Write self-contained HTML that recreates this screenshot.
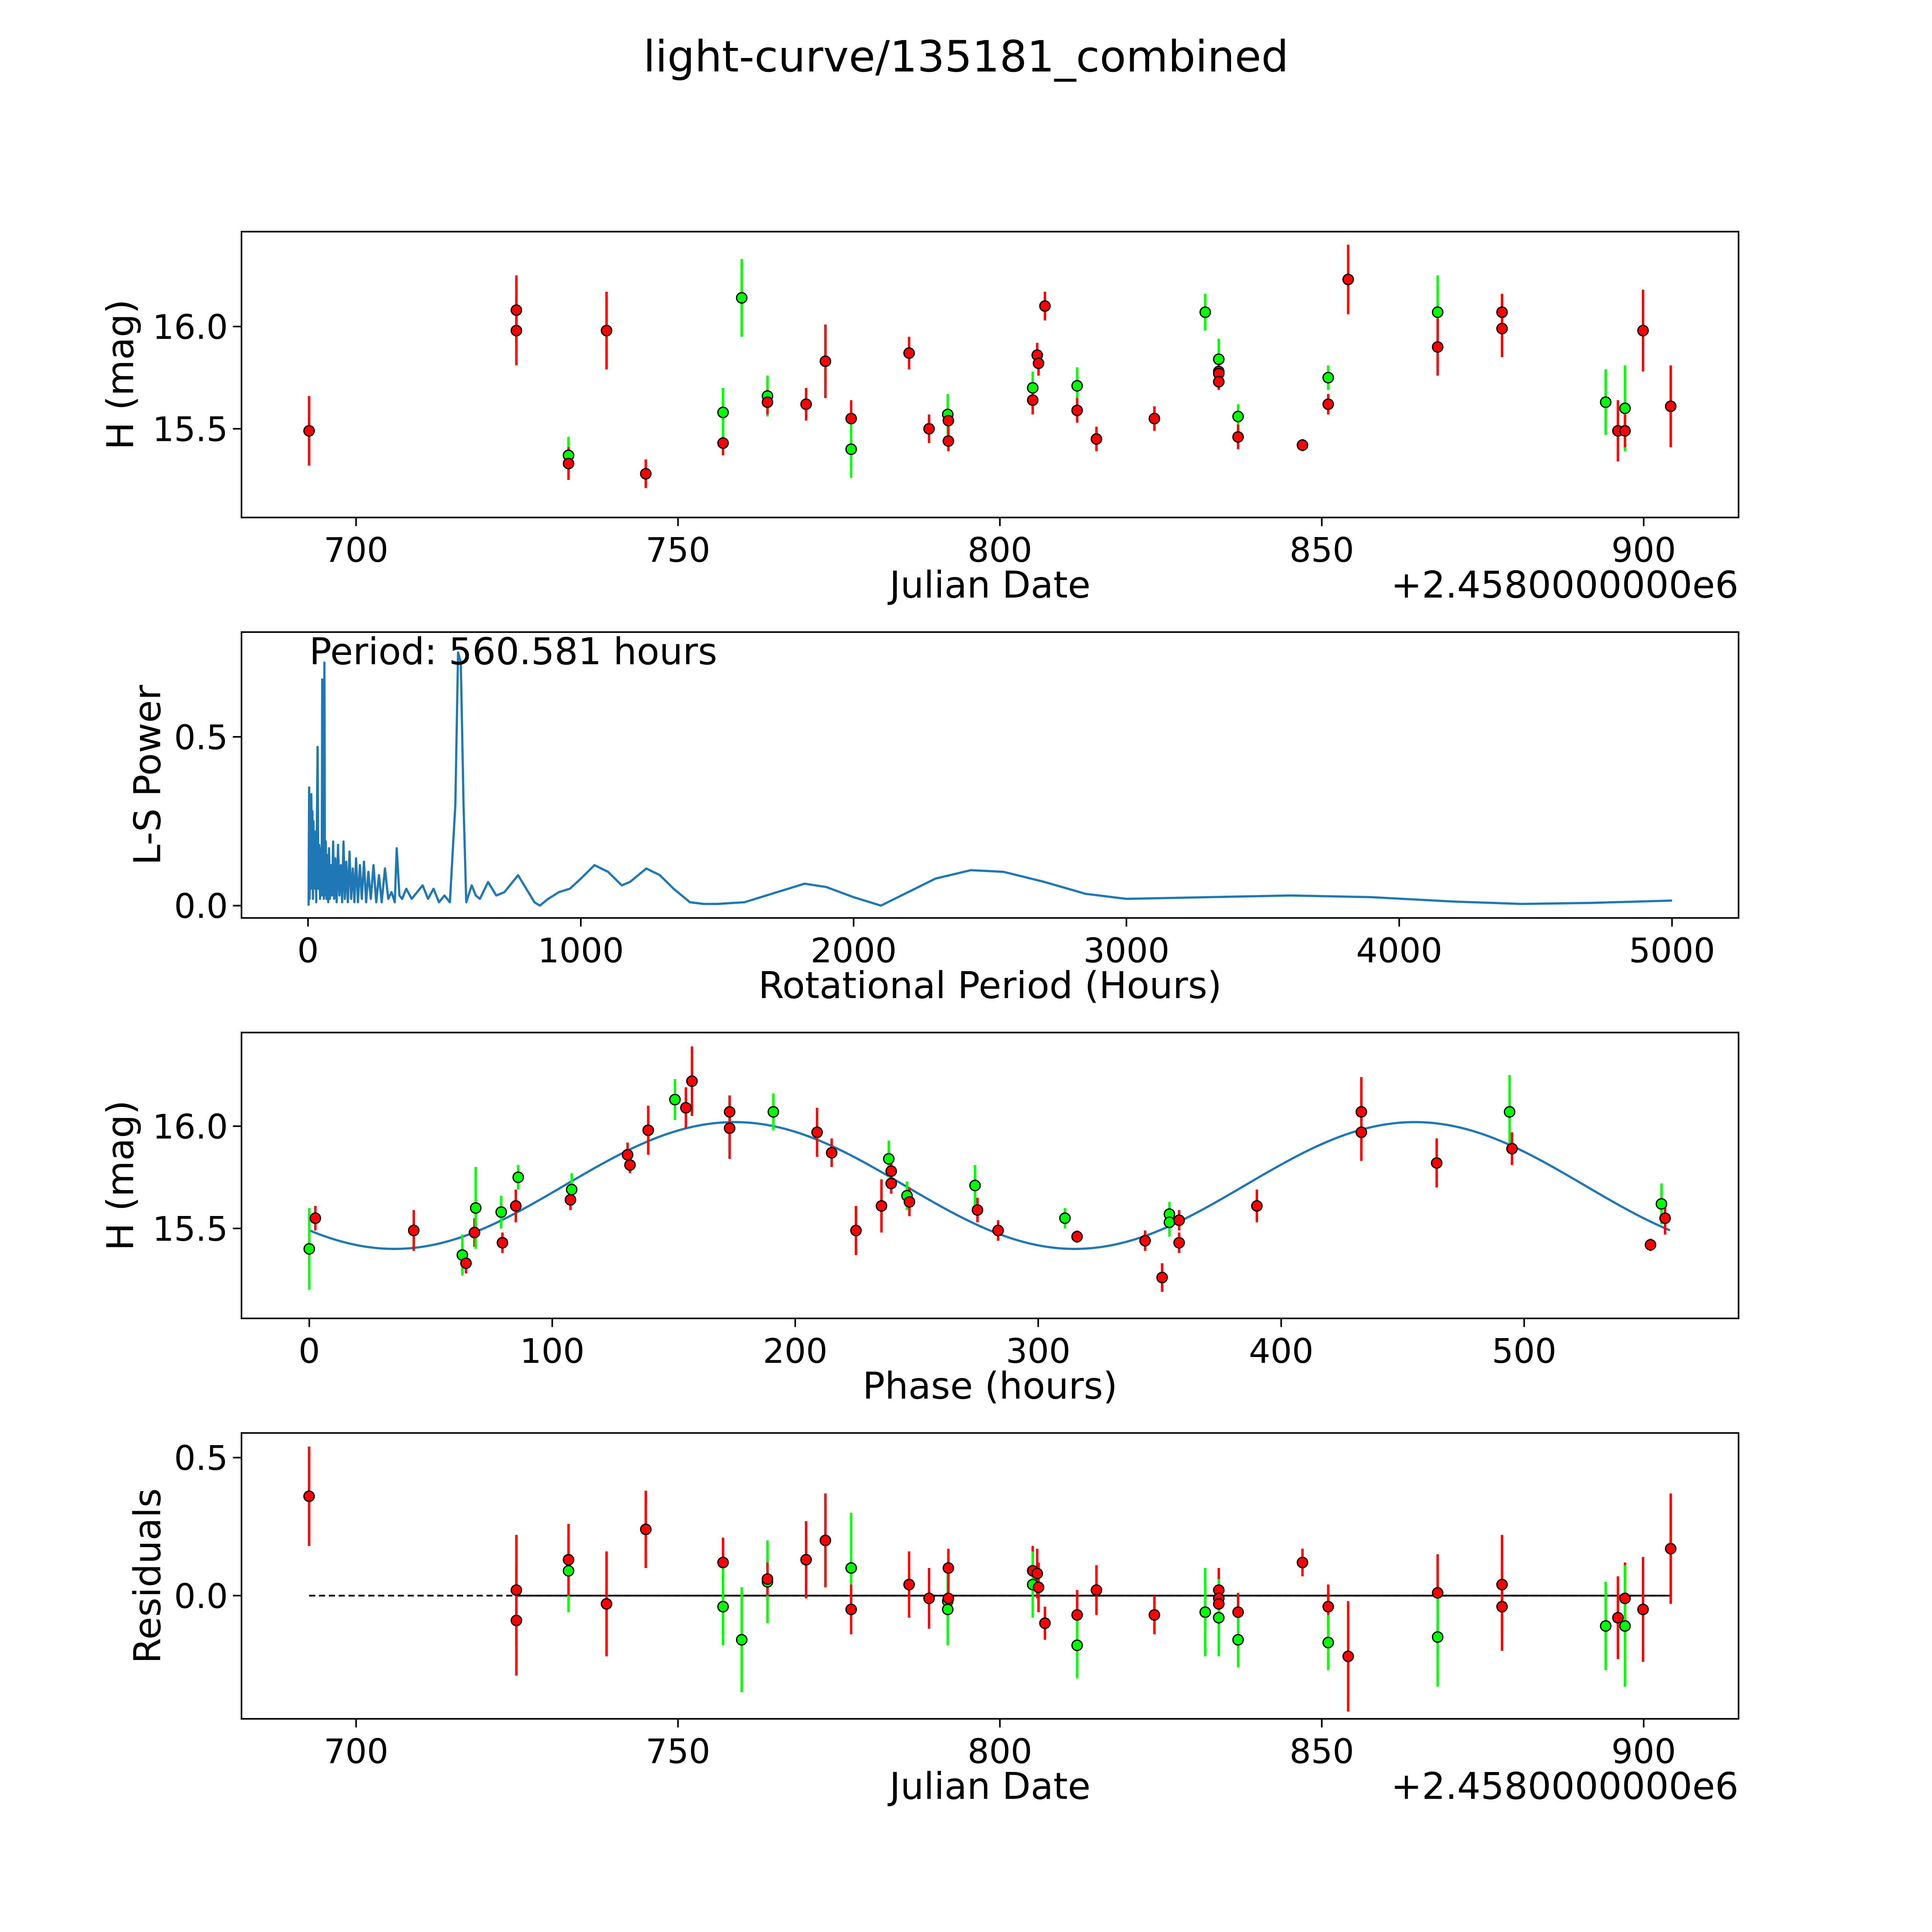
<!DOCTYPE html>
<html><head><meta charset="utf-8">
<style>
html,body{margin:0;padding:0;background:#fff;width:100%;height:100%;overflow:hidden;}
svg{display:block;position:absolute;left:0;top:0;width:100vw;height:100vh;}
text{font-family:"DejaVu Sans","Liberation Sans",sans-serif;fill:#000;}
</style></head>
<body>
<svg id="fig" viewBox="0 0 1568 1568" preserveAspectRatio="none" xmlns="http://www.w3.org/2000/svg">
<rect width="1568" height="1568" fill="#fff"/>
<text x="784" y="58" font-size="35" text-anchor="middle">light-curve/135181_combined</text>
</svg>
<script>
// ---- Panel 1: light curve ----
const jdDays = [692.7,724.9,724.9,733,733,738.9,745,757,757,759.9,763.9,763.9,769.9,772.9,776.9,776.9,785.9,789,791.9,792,792,805.1,805.1,805.8,806,807,812,812,815,824,831.9,834,834,834,834,837,837,847,851,851,854.1,868,868,878,878,894.1,896,897.1,897.1,899.9,904.2];
const magValues = [15.49,16.08,15.98,15.37,15.33,15.98,15.28,15.43,15.58,16.14,15.66,15.63,15.62,15.83,15.55,15.40,15.87,15.50,15.57,15.54,15.44,15.70,15.64,15.86,15.82,16.10,15.71,15.59,15.45,15.55,16.07,15.84,15.78,15.77,15.73,15.56,15.46,15.42,15.75,15.62,16.23,16.07,15.90,16.07,15.99,15.63,15.49,15.60,15.49,15.98,15.61];
const magErrors = [0.17,0.17,0.17,0.09,0.08,0.19,0.07,0.06,0.12,0.19,0.10,0.06,0.08,0.18,0.09,0.14,0.08,0.07,0.10,0.05,0.05,0.08,0.07,0.06,0.06,0.07,0.09,0.06,0.06,0.06,0.09,0.10,0.05,0.05,0.04,0.06,0.06,0.03,0.06,0.05,0.17,0.18,0.14,0.09,0.14,0.16,0.15,0.21,0.08,0.20,0.20];
const filters = ['r','r','r','g','r','r','r','r','g','g','g','r','r','r','r','g','r','r','g','r','r','g','r','r','r','r','g','r','r','r','g','g','r','r','r','g','r','r','g','r','r','g','r','r','r','g','r','g','r','r','r'];
// ---- Panel 2: periodogram ----
const periodHours = [2,4,6,8,10,12,14,16,18,20,22,24,26,28,30,32,35,38,41,44,47,50,52,54,56,58,60,62,65,68,71,74,77,80,84,88,92,96,100,105,110,115,120,125,130,135,140,146,152,158,164,170,176,183,190,197,205,213,221,230,240,250,260,270,282,294,306,318,325,335,345,360,380,400,420,440,460,480,500,520,540,550,560,570,580,600,615,630,660,690,720,770,800,830,850,880,920,960,1000,1050,1100,1150,1180,1240,1290,1340,1400,1450,1500,1600,1700,1820,1900,2000,2100,2200,2300,2430,2550,2700,2850,3000,3300,3600,3900,4200,4450,4700,5000];
const lsPower = [0,0.35,0.02,0.30,0.05,0.33,0.10,0.28,0.02,0.25,0.05,0.20,0.10,0.22,0.01,0.20,0.47,0.05,0.18,0.02,0.17,0.03,0.67,0.05,0.20,0.02,0.72,0.03,0.19,0.02,0.15,0.01,0.17,0.02,0.12,0.03,0.19,0.02,0.14,0.01,0.18,0.03,0.12,0.01,0.19,0.02,0.13,0.01,0.16,0.02,0.11,0.01,0.14,0.01,0.12,0.02,0.13,0.01,0.10,0.02,0.12,0.01,0.09,0.01,0.11,0.02,0.04,0.01,0.17,0.03,0.02,0.05,0.02,0.04,0.06,0.02,0.05,0.01,0.03,0.01,0.30,0.75,0.72,0.30,0.01,0.06,0.03,0.02,0.07,0.03,0.04,0.09,0.05,0.01,0.0,0.02,0.04,0.05,0.08,0.12,0.10,0.06,0.07,0.11,0.09,0.05,0.01,0.005,0.005,0.01,0.035,0.065,0.055,0.025,0.0,0.04,0.08,0.105,0.10,0.07,0.035,0.02,0.025,0.03,0.025,0.012,0.005,0.008,0.015];
const periodLabel = ['Period: 560.581 hours'];
// ---- Panel 3: phased ----
const phaseHours = [0,2.5,43,63,64.5,68,68.5,79,79.5,85,86,107.5,108,131,132,139.5,150.5,155,157.5,173,173,191,209,215,225,235.5,238.5,239.5,239.5,246,247,274,275,283.5,311,316,344,351,354,354,358,358,390,433,433,464,494,495,552,556.5,558];
const phaseMag = [15.40,15.55,15.49,15.37,15.33,15.48,15.60,15.58,15.43,15.61,15.75,15.64,15.69,15.86,15.81,15.98,16.13,16.09,16.22,16.07,15.99,16.07,15.97,15.87,15.49,15.61,15.84,15.78,15.72,15.66,15.63,15.71,15.59,15.49,15.55,15.46,15.44,15.26,15.57,15.53,15.54,15.43,15.61,16.07,15.97,15.82,16.07,15.89,15.42,15.62,15.55];
const phaseErr = [0.2,0.06,0.10,0.10,0.05,0.07,0.2,0.08,0.05,0.08,0.06,0.05,0.08,0.06,0.04,0.12,0.10,0.10,0.17,0.08,0.15,0.09,0.12,0.07,0.12,0.13,0.09,0.05,0.05,0.07,0.07,0.10,0.06,0.05,0.05,0.03,0.05,0.07,0.06,0.07,0.05,0.05,0.08,0.17,0.14,0.12,0.18,0.08,0.03,0.10,0.08];
const phaseFilters = ['g','r','r','g','r','r','g','g','r','r','g','r','g','r','r','r','g','r','r','r','r','g','r','r','r','r','g','r','r','g','r','g','r','r','g','r','r','r','g','g','r','r','r','r','r','r','g','r','r','g','r'];
const fitParams = [15.71, 0.31, 175, 280, 560.581]; // mean, amplitude, peak phase, harmonic period, fold period
// ---- Panel 4: residuals ----
const resDays = [692.7,724.9,724.9,733,733,738.9,745,757,757,759.9,763.9,763.9,769.9,772.9,776.9,776.9,785.9,789,791.9,791.9,792,792,805.1,805.1,805.8,806,807,812,812,815,824,831.9,834,834,834,834,837,837,847,851,851,854.1,868,868,878,878,894.1,896,897.1,897.1,899.9,904.2];
const resValues = [0.36,0.02,-0.09,0.09,0.13,-0.03,0.24,0.12,-0.04,-0.16,0.05,0.06,0.13,0.20,0.10,-0.05,0.04,-0.01,-0.02,-0.05,0.10,-0.01,0.09,0.04,0.08,0.03,-0.10,-0.07,-0.18,0.02,-0.07,-0.06,0.02,-0.01,-0.03,-0.08,-0.06,-0.16,0.12,-0.04,-0.17,-0.22,0.01,-0.15,0.04,-0.04,-0.11,-0.08,-0.01,-0.11,-0.05,0.17];
const resErrors = [0.18,0.2,0.2,0.15,0.13,0.19,0.14,0.09,0.14,0.19,0.15,0.06,0.14,0.17,0.2,0.09,0.12,0.11,0.1,0.13,0.07,0.05,0.09,0.12,0.09,0.09,0.06,0.09,0.12,0.09,0.07,0.16,0.08,0.05,0.05,0.14,0.07,0.1,0.05,0.08,0.1,0.2,0.14,0.18,0.18,0.16,0.16,0.15,0.13,0.22,0.19,0.2];
const resFilters = ['r','r','r','g','r','r','r','r','g','g','g','r','r','r','g','r','r','r','g','g','r','r','r','g','r','r','r','r','g','r','r','g','r','r','r','g','r','g','r','r','g','r','r','g','r','r','g','r','r','g','r','r'];
const jdTicks = [700,750,800,850,900];
const periodTicks = [0,1000,2000,3000,4000,5000];
const phaseTicks = [0,100,200,300,400,500];
const magTicks = [15.5,16.0];
const powerTicks = [0.0,0.5];
const resTicks = [0.0,0.5];

const NS='http://www.w3.org/2000/svg';
const svg=document.getElementById('fig');
function el(tag,attrs,parent){const e=document.createElementNS(NS,tag);for(const k in attrs)e.setAttribute(k,attrs[k]);(parent||svg).appendChild(e);return e;}
const COL={r:'#ff0000',g:'#00ff00'};
const L=196,R=1411;
function lin(d0,d1,p0,p1){return v=>p0+(v-d0)*(p1-p0)/(d1-d0);}

function axesFrame(pt0,name,xTicks,xs,xfmt,yTicks,ys,yfmt,xlabel,ylabel,offset){
  const g=el('g',{});
  
  
  xTicks.forEach(t=>{const x=xs(t);
    const tk=el('line',{x1:x,x2:x,y1:pt0+232,y2:pt0+239,stroke:'#000','stroke-width':1.3},g);
    
    
    const tl=el('text',{x:x,y:pt0+268,'font-size':27.5,'text-anchor':'middle'},g);tl.textContent=xfmt(t);
    
    });
  yTicks.forEach(t=>{const y=ys(t);
    const tk=el('line',{x1:L-7,x2:L,y1:y,y2:y,stroke:'#000','stroke-width':1.3},g);
    
    
    const tl=el('text',{x:L-11,y:y+10,'font-size':27.5,'text-anchor':'end'},g);tl.textContent=yfmt(t);
    
    });
  const xl=el('text',{x:803.5,y:pt0+297,'font-size':30,'text-anchor':'middle'},g);xl.textContent=xlabel;
  
  
  const yx=ylabel==='H (mag)'?108:130;
  const yl=el('text',{x:yx,y:pt0+116,'font-size':30,'text-anchor':'middle',transform:`rotate(-90 ${yx} ${pt0+116})`},g);yl.textContent=ylabel;
  
  
  if(offset){const o=el('text',{x:R,y:pt0+297,'font-size':30,'text-anchor':'end'},g);o.textContent=offset;
    
    }
  return g;
}
function frame(pt0){const f=el('rect',{x:L,y:pt0,width:R-L,height:232,fill:'none',stroke:'#000','stroke-width':1.3});
  
  }
function points(xs,ys,X,Y,E,F,name){
  const g=el('g',{});
  
  
  X.forEach((v,i)=>{const x=xs(v);
    const b=el('line',{x1:x,x2:x,y1:ys(Y[i]-E[i]),y2:ys(Y[i]+E[i]),stroke:COL[F[i]],'stroke-width':2},g);
    
    });
  X.forEach((v,i)=>{
    const c=el('circle',{cx:xs(v),cy:ys(Y[i]),r:4.2,fill:COL[F[i]],stroke:'#000','stroke-width':1},g);
    
    });
}
const jdX=lin(700,900,289,1334);
const f1=v=>v.toFixed(1), fi=v=>String(v);

// Panel 1
let panelTop=188;
const y1=lin(16,15.5,265,348);
axesFrame(panelTop,'light-curve-axes',jdTicks,jdX,fi,magTicks,y1,f1,'Julian Date','H (mag)','+2.4580000000e6');
points(jdX,y1,jdDays,magValues,magErrors,filters,'light-curve-points');
frame(panelTop);

// Panel 2
panelTop=513;
const px=lin(0,5000,250,1357), py=lin(0,0.5,735,598);
axesFrame(panelTop,'periodogram-axes',periodTicks,px,fi,powerTicks,py,f1,'Rotational Period (Hours)','L-S Power');
const pl=el('polyline',{points:periodHours.map((p,i)=>px(p)+','+py(lsPower[i])).join(' '),fill:'none',stroke:'#1f77b4','stroke-width':1.8,'stroke-linejoin':'round'});


const ptxt=el('text',{x:251,y:539,'font-size':30});ptxt.textContent=periodLabel[0];


frame(panelTop);

// Panel 3
panelTop=838;
const phx=lin(0,500,251,1237), phy=lin(16,15.5,914,997);
axesFrame(panelTop,'phased-axes',phaseTicks,phx,fi,magTicks,phy,f1,'Phase (hours)','H (mag)');
const fp=[];for(let p=0;p<=fitParams[4];p+=2){fp.push(phx(p)+','+phy(fitParams[0]+fitParams[1]*Math.cos(2*Math.PI*(p-fitParams[2])/fitParams[3])));}
const fl=el('polyline',{points:fp.join(' '),fill:'none',stroke:'#1f77b4','stroke-width':1.8});


points(phx,phy,phaseHours,phaseMag,phaseErr,phaseFilters,'phased-points');
frame(panelTop);

// Panel 4
panelTop=1163;
const ry=lin(0,0.5,1295,1183);
axesFrame(panelTop,'residuals-axes',jdTicks,jdX,fi,resTicks,ry,f1,'Julian Date','Residuals','+2.4580000000e6');
const sl=el('line',{x1:jdX(724.9),x2:jdX(904.2),y1:ry(0),y2:ry(0),stroke:'#000','stroke-width':1.4});


const dl=el('line',{x1:jdX(692.7),x2:jdX(904.2),y1:ry(0),y2:ry(0),stroke:'#000','stroke-width':1.4,'stroke-dasharray':'5,3'});


points(jdX,ry,resDays,resValues,resErrors,resFilters,'residual-points');
frame(panelTop);
</script>
</body></html>
